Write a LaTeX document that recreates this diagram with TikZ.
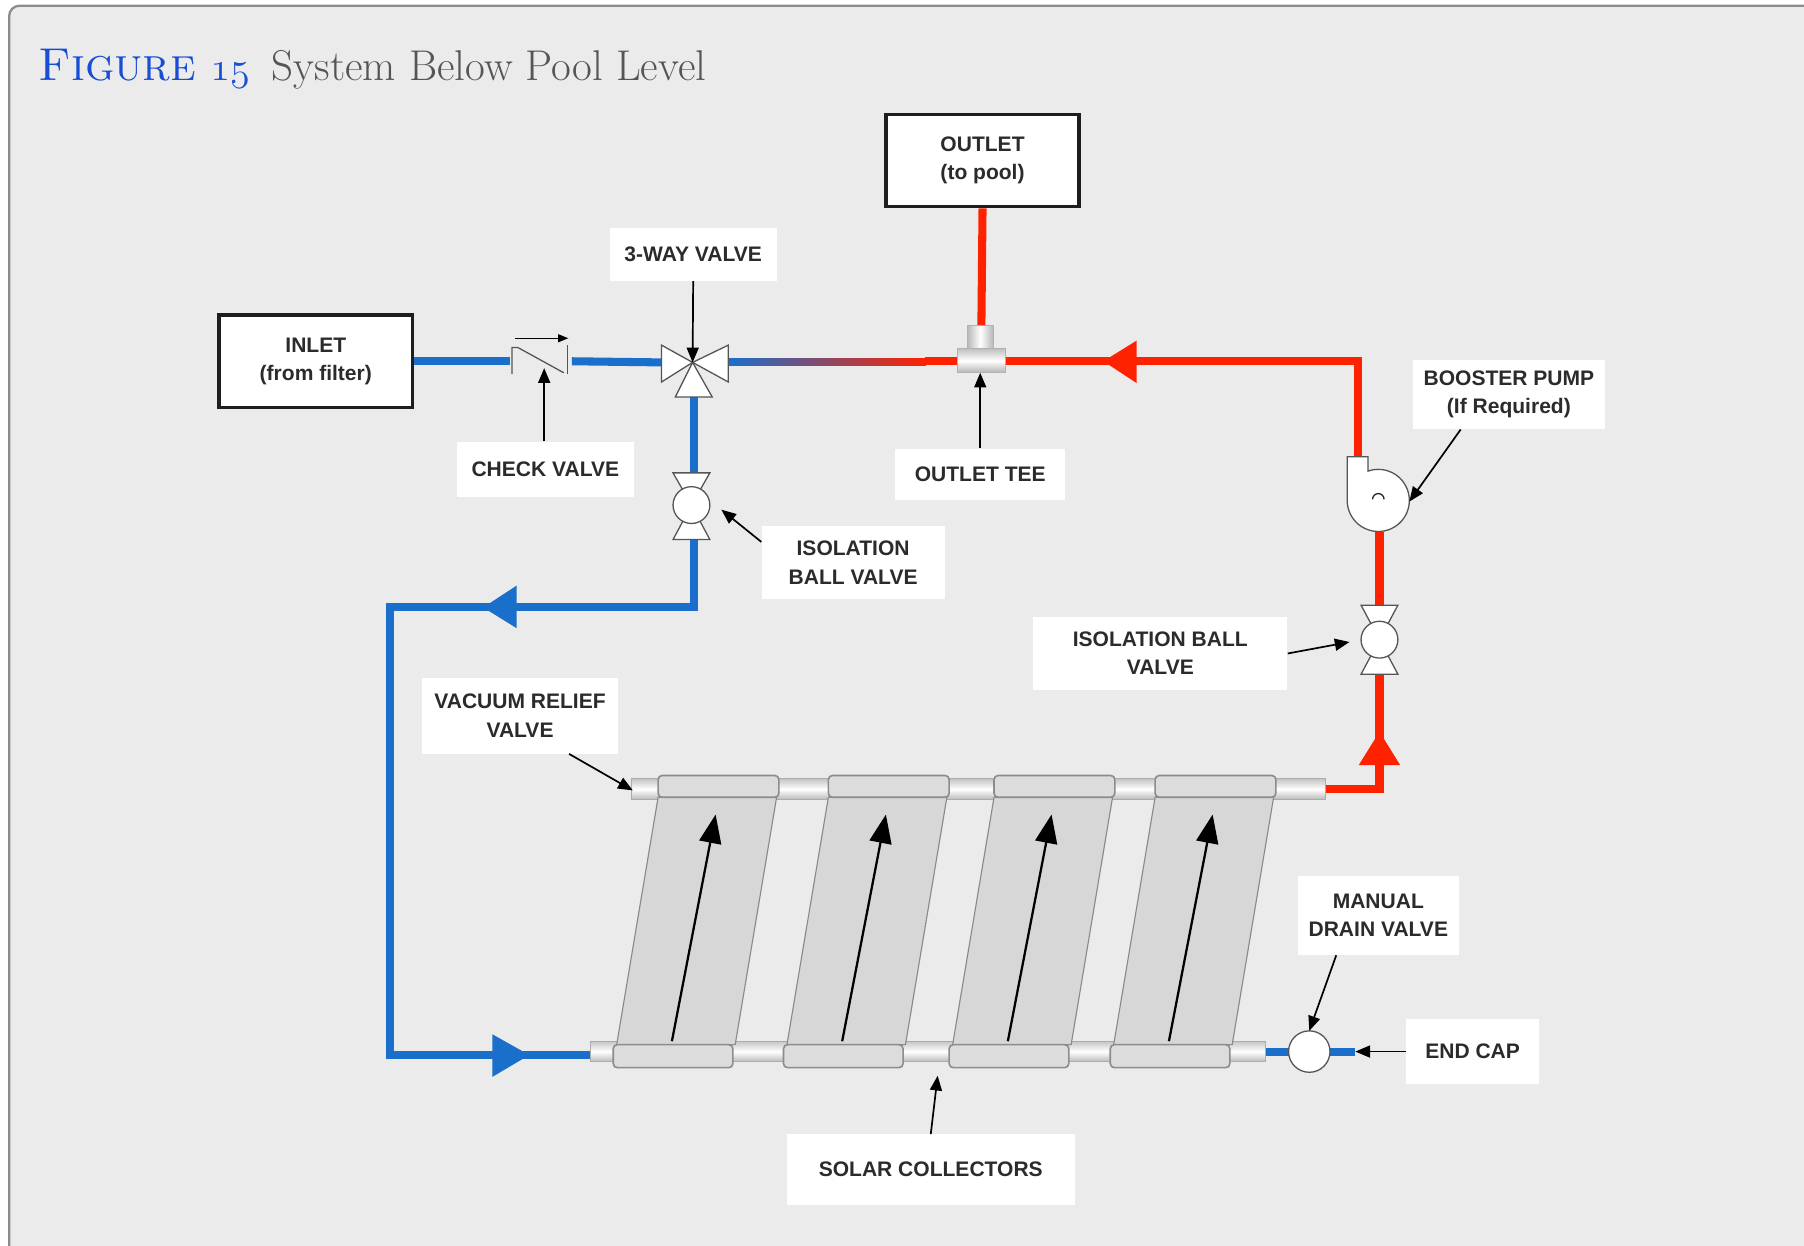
\documentclass[tikz,border=0pt]{standalone}
\usepackage{fontspec}
\newfontfamily\lab{Liberation Sans}
\usetikzlibrary{arrows.meta,calc}
\definecolor{bgc}{HTML}{EBEBEB}
\definecolor{framec}{HTML}{8C8C8C}
\definecolor{titleblue}{HTML}{184ED6}
\definecolor{titlegray}{HTML}{555555}
\definecolor{pipeblue}{HTML}{1A6FCB}
\definecolor{pipered}{HTML}{FF2200}
\definecolor{labtext}{HTML}{2B2B2B}
\definecolor{boxline}{HTML}{1E1E1E}
\definecolor{valveline}{HTML}{555555}
\definecolor{panelfill}{HTML}{D7D7D7}
\definecolor{panelline}{HTML}{8A8A8A}
\definecolor{collarfill}{HTML}{DCDCDC}
\definecolor{collarline}{HTML}{8C8C8C}
\begin{document}
\begin{tikzpicture}[x=0.025cm,y=-0.025cm,
  pipeB/.style={draw=pipeblue,line width=0.175cm},
  pipeR/.style={draw=pipered,line width=0.175cm},
  lbl/.style={fill=white,inner sep=0pt,align=center,text=labtext,font=\lab\bfseries\fontsize{13}{17.5}\selectfont},
  endbox/.style={draw=boxline,line width=2.2pt,fill=white,inner sep=0pt,align=center,text=labtext,font=\lab\bfseries\fontsize{13}{17.5}\selectfont,minimum width=4.2cm,minimum height=2.0cm},
  callout/.style={draw=black,line width=1.05pt,-{Triangle[length=0.32cm,width=0.26cm]}},
  flowarrow/.style={draw=black,line width=1.4pt,-{Triangle[length=0.62cm,width=0.48cm]}},
  valvepart/.style={draw=valveline,fill=white,line width=0.8pt},
  chk/.style={draw=valveline,line width=0.8pt},
  hdr/.style={top color=gray!45,bottom color=gray!55,middle color=white,draw=gray!65,line width=0.6pt},
  collar/.style={fill=collarfill,draw=collarline,line width=1pt,rounded corners=0.09cm},
  panel/.style={fill=panelfill,draw=panelline,line width=0.7pt}]

\clip (0,0) rectangle (1568,1083);
\fill[white] (0,0) rectangle (1568,1083);
\draw[draw=framec,line width=1.4pt,fill=bgc,rounded corners=0.22cm] (8,5) rectangle (1640,1140);

% title
\node[anchor=base west,inner sep=0pt,text=titleblue,font=\fontsize{28.5}{32}\selectfont] (titlea) at (33,70)
  {\textsc{Figure} {\usefont{OML}{cmm}{m}{it}15}};
\node[anchor=base west,inner sep=0pt,text=titlegray,font=\fontsize{26.6}{32}\selectfont] (titleb) at (236,70)
  {System Below Pool Level};

% ---------- coordinates of components ----------
\coordinate (chkL) at (443,314);
\coordinate (chkR) at (497,314);
\coordinate (v3) at (602,315);
\coordinate (v3L) at (575,315);
\coordinate (v3R) at (633,315);
\coordinate (v3B) at (603,345);
\coordinate (gradend) at (805,314);
\coordinate (teeL) at (832,314);
\coordinate (teeR) at (874,314);
\coordinate (teeT) at (853,283);
\coordinate (rc1) at (1180,314);
\coordinate (pumpIn) at (1180,397);
\coordinate (pumpOut) at (1199,462);
\coordinate (iso2) at (1199,556);
\coordinate (iso2T) at (1199,526);
\coordinate (iso2B) at (1199,586);
\coordinate (rc2) at (1199,686);
\coordinate (hdrTR) at (1152,686);
\coordinate (iso1) at (601,439);
\coordinate (iso1T) at (603,411);
\coordinate (iso1B) at (603,469);
\coordinate (bc1) at (603,528);
\coordinate (bc2) at (339,528);
\coordinate (bc3) at (339,917);
\coordinate (hdrBL) at (513,917);
\coordinate (hdrBR) at (1100,914);
\coordinate (drain) at (1138,914);
\coordinate (drainE) at (1178,914);

% ---------- end boxes ----------
\node[endbox] (inlet) at (274.5,314) {INLET\\(from filter)};
\node[endbox] (outlet) at (854,139.5) {OUTLET\\(to pool)};

% ---------- pipes ----------
\draw[pipeB] (inlet.east) -- (chkL);
\draw[pipeB] (chkR) -- (v3L);
\shade[left color=pipeblue,right color=pipered] ($(v3R)+(0,-3.5)$) rectangle ($(gradend)+(0,3.5)$);
\draw[pipeR] ($(gradend)+(-1,0)$) -- (teeL);
\draw[pipeR] (outlet.south) -- (teeT);
\draw[pipeR] (teeR) -- (rc1) -- (pumpIn);
\draw[pipeR] (pumpOut) -- (iso2T);
\draw[pipeR] (iso2B) -- (rc2) -- (hdrTR);
\draw[pipeB] (v3B) -- (iso1T);
\draw[pipeB] (iso1B) -- (bc1) -- (bc2) -- (bc3) -- (hdrBL);
\draw[pipeB] (hdrBR) -- (drainE);

% pipe flow arrows
\fill[pipered] (959,314) -- (988,296) -- (988,333) -- cycle;
\fill[pipered] (1199,636) -- (1181,665) -- (1217,665) -- cycle;
\fill[pipeblue] (420,528) -- (449,509) -- (449,546) -- cycle;
\fill[pipeblue] (460,917) -- (428,899) -- (428,936) -- cycle;

% ---------- outlet tee ----------
\shade[left color=gray!55,right color=gray!55,middle color=white,draw=gray!60,line width=0.4pt] (841,283) rectangle (863,304);
\shade[top color=gray!50,bottom color=gray!60,middle color=white,draw=gray!60,line width=0.4pt] (832,303) rectangle (874,324);

% ---------- check valve ----------
\draw[chk] (445,325) -- (445,302) -- (450,302) -- (490,324);
\draw[chk] (493,300) -- (493,325);
\draw[draw=black,line width=0.8pt,-{Triangle[length=0.22cm,width=0.17cm]}] (448,294) -- (494,294);

% ---------- 3-way valve ----------
\draw[valvepart] (v3) -- (575,300) -- (575,332) -- cycle;
\draw[valvepart] (v3) -- (633,300) -- (633,332) -- cycle;
\draw[valvepart] (v3) -- (587,345) -- (619,345) -- cycle;

% ---------- isolation ball valves ----------
\draw[valvepart] (585,411) -- (617,411) -- (iso1) -- cycle;
\draw[valvepart] (585,469) -- (617,469) -- (iso1) -- cycle;
\draw[valvepart] (iso1) circle[radius=16];
\draw[valvepart] (1183,526) -- (1215,526) -- (iso2) -- cycle;
\draw[valvepart] (1183,586) -- (1215,586) -- (iso2) -- cycle;
\draw[valvepart] (iso2) circle[radius=16];

% ---------- booster pump ----------
\draw[valvepart] (1171,397) -- (1189,397) -- (1189,409.5) arc[start angle=250.6,end angle=540,radius=27] -- cycle;
\draw[draw=gray!30!black,line width=0.8pt] (1193,434) arc[start angle=180,end angle=360,radius=5];

% ---------- solar collectors ----------
\shade[hdr] (549,677) rectangle (1152,695);
\shade[hdr] (513,905) rectangle (1100,923);
\foreach \T in {572,720,864,1004}{
  \draw[panel] (\T,693) -- (\T+103,693) -- (\T+67,908) -- (\T-36,908) -- cycle;
  \draw[collar] (\T,674) rectangle (\T+105,693);
  \draw[collar] (\T-39,908) rectangle (\T+65,928);
  \draw[flowarrow] (\T+12,905) -- (\T+50,708);
}

% manual drain valve
\draw[valvepart] (drain) circle[radius=18];

% ---------- labels ----------
\node[lbl,minimum width=3.625cm,minimum height=1.15cm] (n3way) at (602.5,221) {3-WAY VALVE};
\node[lbl,minimum width=3.85cm,minimum height=1.2cm] (ncheck) at (474,408) {CHECK VALVE};
\node[lbl,minimum width=3.7cm,minimum height=1.125cm] (ntee) at (852,412.5) {OUTLET TEE};
\node[lbl,minimum width=3.975cm,minimum height=1.6cm] (niso1) at (741.5,489) {ISOLATION\\BALL VALVE};
\node[lbl,minimum width=4.175cm,minimum height=1.5cm] (nbooster) at (1311.5,343) {BOOSTER PUMP\\(If Required)};
\node[lbl,minimum width=5.525cm,minimum height=1.6cm] (niso2) at (1008.5,568) {ISOLATION BALL\\VALVE};
\node[lbl,minimum width=4.25cm,minimum height=1.65cm] (nvac) at (452,622) {VACUUM RELIEF\\VALVE};
\node[lbl,minimum width=3.5cm,minimum height=1.725cm] (nmanual) at (1198,795.5) {MANUAL\\DRAIN VALVE};
\node[lbl,minimum width=2.9cm,minimum height=1.4cm] (nendcap) at (1280,914) {END CAP};
\node[lbl,minimum width=6.25cm,minimum height=1.525cm] (nsolar) at (809,1016.5) {SOLAR COLLECTORS};

% ---------- callout arrows ----------
\coordinate (chkP) at (473,320);
\coordinate (teeP) at (852,324);
\coordinate (iso1P) at (627,443);
\coordinate (pumpP) at (1225,436);
\coordinate (iso2P) at (1173,558);
\coordinate (vacP) at (550,687);
\coordinate (drainP) at (1138,896);
\coordinate (solarP) at (815,935);
\draw[callout] (n3way.south) -- (v3);
\draw[callout] (ncheck.north -| chkP) -- (chkP);
\draw[callout] (ntee.north) -- (teeP);
\draw[callout] (niso1.north west |- 0,471) -- (iso1P);
\draw[callout] ($(nbooster.south west)!0.25!(nbooster.south east)$) -- (pumpP);
\draw[callout] (niso2.east) -- (iso2P);
\draw[callout] ($(nvac.south west)!0.75!(nvac.south east)$) -- (vacP);
\draw[callout] ($(nmanual.south west)!0.24!(nmanual.south east)$) -- (drainP);
\draw[callout] (nendcap.west) -- (drainE);
\draw[callout] (nsolar.north) -- (solarP);
\end{tikzpicture}
\end{document}
